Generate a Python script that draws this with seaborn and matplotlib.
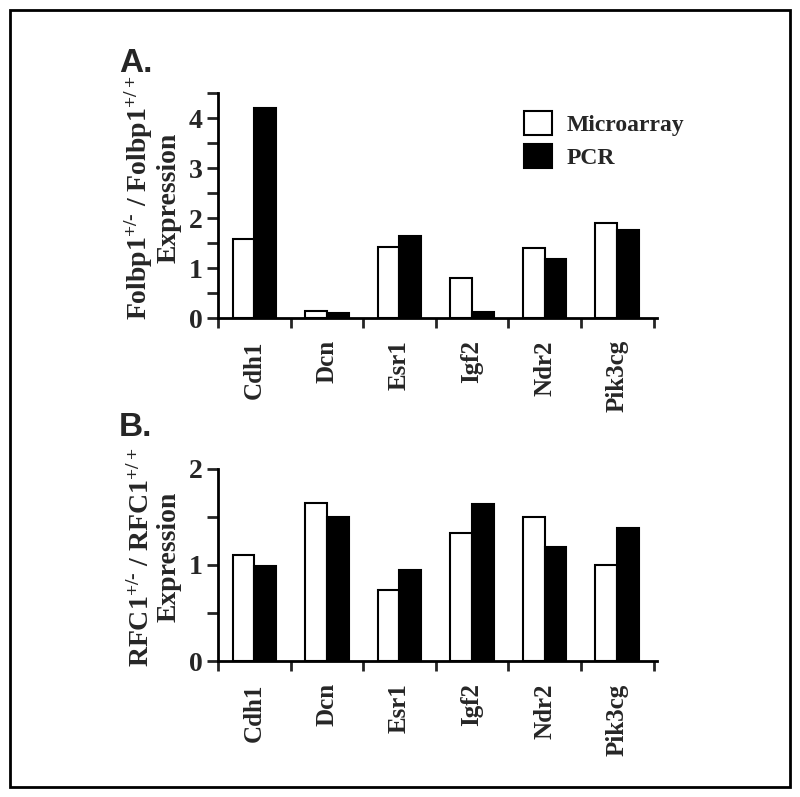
import matplotlib
matplotlib.use("Agg")
import matplotlib.pyplot as plt
import pandas as pd
import seaborn as sns
from matplotlib.patches import Rectangle
from matplotlib.ticker import MultipleLocator

genes = ["Cdh1", "Dcn", "Esr1", "Igf2", "Ndr2", "Pik3cg"]
methods = ["Microarray", "PCR"]

# panel A: Folbp1 +/- vs +/+
folbp1_microarray = [1.58, 0.14, 1.42, 0.80, 1.41, 1.91]
folbp1_pcr = [4.20, 0.10, 1.64, 0.13, 1.19, 1.76]

# panel B: RFC1 +/- vs +/+
rfc1_microarray = [1.10, 1.65, 0.74, 1.33, 1.50, 1.00]
rfc1_pcr = [0.99, 1.50, 0.95, 1.64, 1.19, 1.39]


def long_form(micro, pcr):
    return pd.DataFrame({
        "gene": genes * 2,
        "method": [methods[0]] * len(genes) + [methods[1]] * len(genes),
        "value": micro + pcr,
    })


sns.set_style("white")
plt.rcParams["font.family"] = ["Liberation Serif", "DejaVu Serif"]
plt.rcParams["font.weight"] = "bold"
plt.rcParams["mathtext.default"] = "regular"

fig = plt.figure(figsize=(8, 7.97), dpi=100)
ax_a = fig.add_axes([0.2725, 0.601, 0.549, 0.282])
ax_b = fig.add_axes([0.2725, 0.1706, 0.549, 0.241])

palette = {"Microarray": "white", "PCR": "black"}

hy = "\u2010"  # plain hyphen so mathtext does not turn it into a minus
panels = [
    (ax_a, long_form(folbp1_microarray, folbp1_pcr), 4.5, 0.535,
     "Folbp1$^{+/" + hy + "}$ / Folbp1$^{+/+}$\nExpression"),
    (ax_b, long_form(rfc1_microarray, rfc1_pcr), 2.0, 0.54,
     "RFC1$^{+/" + hy + "}$ / RFC1$^{+/+}$\nExpression"),
]

for ax, df, ymax, label_y, ylabel in panels:
    sns.barplot(data=df, x="gene", y="value", hue="method", palette=palette,
                edgecolor="black", linewidth=1.5, width=0.6, ax=ax,
                legend=(ax is ax_a))
    ax.set_ylim(0, ymax)
    ax.set_xlim(-0.5, 5.55)
    ax.yaxis.set_major_locator(MultipleLocator(1))
    ax.yaxis.set_minor_locator(MultipleLocator(0.5))
    ax.set_xticks([i + 0.5 for i in range(-1, 6)], minor=False)
    ax.set_xticklabels([])
    ax.set_xticks(range(len(genes)), minor=True)
    ax.set_xticklabels(genes, minor=True, rotation=90, fontsize=18,
                       fontweight="bold")
    ax.tick_params(axis="x", which="major", direction="out", length=7,
                   width=2, bottom=True)
    ax.tick_params(axis="x", which="minor", length=0, pad=16)
    ax.tick_params(axis="y", which="both", direction="out", length=8,
                   width=2, left=True, labelsize=20, pad=3)
    for lbl in ax.get_yticklabels():
        lbl.set_fontweight("bold")
    for side in ["top", "right"]:
        ax.spines[side].set_visible(False)
    for side in ["left", "bottom"]:
        ax.spines[side].set_linewidth(2)
        ax.spines[side].set_color("black")
    ax.set_xlabel("")
    ax.set_ylabel(ylabel, fontsize=20, fontweight="bold", labelpad=5,
                  linespacing=1.1)
    ax.yaxis.label.set_y(label_y)

leg = ax_a.legend(loc="upper left", bbox_to_anchor=(0.67, 0.975), frameon=False,
                  fontsize=17, handlelength=1.2, handleheight=1.2,
                  handletextpad=0.6, labelspacing=0.35, borderpad=0)
for h in leg.legend_handles:
    h.set_edgecolor("black")
    h.set_linewidth(1.5)
for t in leg.get_texts():
    t.set_fontweight("bold")

fig.text(0.149, 0.94, "A.", family="Liberation Sans", fontsize=24,
         fontweight="bold", va="top", ha="left")
fig.text(0.149, 0.483, "B.", family="Liberation Sans", fontsize=24,
         fontweight="bold", va="top", ha="left")

fig.patches.append(Rectangle((0.0125, 0.0125), 0.975, 0.975,
                             transform=fig.transFigure, fill=False,
                             edgecolor="black", linewidth=2))

fig.savefig("out.png", dpi=100)
